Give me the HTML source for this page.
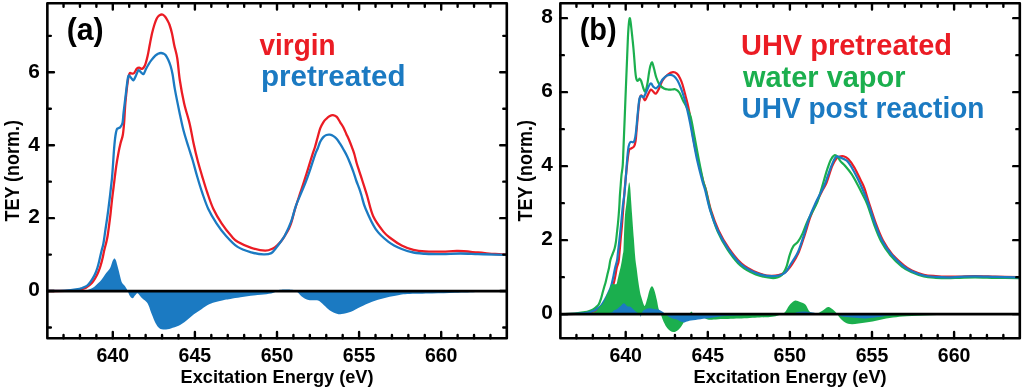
<!DOCTYPE html>
<html><head><meta charset="utf-8"><style>
html,body{margin:0;padding:0;background:#fff;width:1024px;height:392px;overflow:hidden}
svg{display:block;will-change:transform}
text{font-family:"Liberation Sans",sans-serif}
</style></head><body>
<svg width="1024" height="392" viewBox="0 0 1024 392">
<rect width="1024" height="392" fill="#fff"/>
<clipPath id="ca"><rect x="47.35" y="3.30" width="459.45" height="335.00"/></clipPath>
<g clip-path="url(#ca)">
<path d="M47.40,291.00 C50.33,290.97 60.40,290.92 65.00,290.80 C69.60,290.68 72.40,290.52 75.00,290.30 C77.60,290.08 78.77,289.95 80.60,289.50 C82.43,289.05 84.47,288.35 86.00,287.60 C87.53,286.85 88.63,286.02 89.80,285.00 C90.97,283.98 91.98,282.83 93.00,281.50 C94.02,280.17 94.98,278.67 95.90,277.00 C96.82,275.33 97.73,273.33 98.50,271.50 C99.27,269.67 99.83,268.17 100.50,266.00 C101.17,263.83 101.87,261.17 102.50,258.50 C103.13,255.83 103.72,252.50 104.30,250.00 C104.88,247.50 105.45,245.83 106.00,243.50 C106.55,241.17 107.10,238.92 107.60,236.00 C108.10,233.08 108.52,229.67 109.00,226.00 C109.48,222.33 110.00,218.33 110.50,214.00 C111.00,209.67 111.48,204.50 112.00,200.00 C112.52,195.50 112.90,192.60 113.60,187.00 C114.30,181.40 115.37,172.22 116.20,166.40 C117.03,160.58 117.87,156.00 118.60,152.10 C119.33,148.20 119.90,145.85 120.60,143.00 C121.30,140.15 122.22,138.33 122.80,135.00 C123.38,131.67 123.67,128.35 124.10,123.00 C124.53,117.65 124.80,109.77 125.40,102.90 C126.00,96.03 127.00,86.68 127.70,81.80 C128.40,76.92 128.90,74.97 129.60,73.60 C130.30,72.23 131.13,73.70 131.90,73.60 C132.67,73.50 133.37,73.83 134.20,73.00 C135.03,72.17 136.07,69.50 136.90,68.60 C137.73,67.70 138.35,67.55 139.20,67.60 C140.05,67.65 141.05,69.25 142.00,68.90 C142.95,68.55 143.97,67.65 144.90,65.50 C145.83,63.35 146.80,59.42 147.60,56.00 C148.40,52.58 148.97,48.75 149.70,45.00 C150.43,41.25 151.23,36.83 152.00,33.50 C152.77,30.17 153.58,27.33 154.30,25.00 C155.02,22.67 155.65,20.93 156.30,19.50 C156.95,18.07 157.58,17.17 158.20,16.40 C158.82,15.63 159.43,15.22 160.00,14.90 C160.57,14.58 161.07,14.50 161.60,14.50 C162.13,14.50 162.60,14.52 163.20,14.90 C163.80,15.28 164.48,15.87 165.20,16.80 C165.92,17.73 166.77,19.13 167.50,20.50 C168.23,21.87 168.85,22.83 169.60,25.00 C170.35,27.17 171.23,30.17 172.00,33.50 C172.77,36.83 173.32,40.83 174.20,45.00 C175.08,49.17 176.37,52.67 177.30,58.50 C178.23,64.33 178.67,72.55 179.80,80.00 C180.93,87.45 182.45,95.88 184.10,103.20 C185.75,110.52 188.13,117.27 189.70,123.90 C191.27,130.53 192.20,136.98 193.50,143.00 C194.80,149.02 196.05,154.45 197.50,160.00 C198.95,165.55 200.57,170.85 202.20,176.30 C203.83,181.75 205.43,187.25 207.30,192.70 C209.17,198.15 211.02,203.90 213.40,209.00 C215.78,214.10 218.53,218.70 221.60,223.30 C224.67,227.90 229.13,233.53 231.80,236.60 C234.47,239.67 234.35,239.83 237.60,241.70 C240.85,243.57 246.72,246.30 251.30,247.80 C255.88,249.30 261.52,250.58 265.10,250.70 C268.68,250.82 270.75,249.42 272.80,248.50 C274.85,247.58 275.95,246.48 277.40,245.20 C278.85,243.92 280.23,242.42 281.50,240.80 C282.77,239.18 283.83,237.38 285.00,235.50 C286.17,233.62 287.47,231.58 288.50,229.50 C289.53,227.42 290.12,226.38 291.20,223.00 C292.28,219.62 293.53,214.10 295.00,209.20 C296.47,204.30 298.57,197.98 300.00,193.60 C301.43,189.22 302.25,187.07 303.60,182.90 C304.95,178.73 306.62,173.37 308.10,168.60 C309.58,163.83 311.35,157.90 312.50,154.30 C313.65,150.70 314.15,149.80 315.00,147.00 C315.85,144.20 316.73,140.60 317.60,137.50 C318.47,134.40 319.25,130.93 320.20,128.40 C321.15,125.87 322.27,123.92 323.30,122.30 C324.33,120.68 325.38,119.72 326.40,118.70 C327.42,117.68 328.30,116.80 329.40,116.20 C330.50,115.60 331.77,114.98 333.00,115.10 C334.23,115.22 335.60,115.70 336.80,116.90 C338.00,118.10 339.12,120.57 340.20,122.30 C341.28,124.03 342.28,125.37 343.30,127.30 C344.32,129.23 345.30,131.70 346.30,133.90 C347.30,136.10 348.37,138.28 349.30,140.50 C350.23,142.72 351.07,144.95 351.90,147.20 C352.73,149.45 353.50,151.33 354.30,154.00 C355.10,156.67 355.87,160.32 356.70,163.20 C357.53,166.08 358.37,168.42 359.30,171.30 C360.23,174.18 361.37,177.60 362.30,180.50 C363.23,183.40 364.08,186.12 364.90,188.70 C365.72,191.28 365.82,191.40 367.20,196.00 C368.58,200.60 370.50,210.37 373.20,216.30 C375.90,222.23 380.43,227.90 383.40,231.60 C386.37,235.30 387.95,236.18 391.00,238.50 C394.05,240.82 397.97,243.60 401.70,245.50 C405.43,247.40 409.48,248.90 413.40,249.90 C417.32,250.90 420.30,251.22 425.20,251.50 C430.10,251.78 437.33,251.68 442.80,251.60 C448.27,251.52 452.15,250.85 458.00,251.00 C463.85,251.15 471.73,252.00 477.90,252.50 C484.07,253.00 490.32,253.65 495.00,254.00 C499.68,254.35 504.17,254.50 506.00,254.60" stroke="#EB1C24" stroke-width="2.3" fill="none" stroke-linejoin="round"/>
<path d="M47.40,291.00 C50.33,290.95 59.97,291.00 65.00,290.70 C70.03,290.40 74.77,289.65 77.60,289.20 C80.43,288.75 80.47,288.55 82.00,288.00 C83.53,287.45 85.47,286.82 86.80,285.90 C88.13,284.98 88.98,283.78 90.00,282.50 C91.02,281.22 92.02,279.70 92.90,278.20 C93.78,276.70 94.53,275.28 95.30,273.50 C96.07,271.72 96.88,269.42 97.50,267.50 C98.12,265.58 98.50,264.03 99.00,262.00 C99.50,259.97 100.00,257.47 100.50,255.30 C101.00,253.13 101.52,250.97 102.00,249.00 C102.48,247.03 102.83,246.67 103.40,243.50 C103.97,240.33 104.70,234.75 105.40,230.00 C106.10,225.25 106.92,220.00 107.60,215.00 C108.28,210.00 108.92,204.83 109.50,200.00 C110.08,195.17 110.68,189.67 111.10,186.00 C111.52,182.33 111.68,181.57 112.00,178.00 C112.32,174.43 112.65,169.50 113.00,164.60 C113.35,159.70 113.70,153.37 114.10,148.60 C114.50,143.83 114.95,139.20 115.40,136.00 C115.85,132.80 116.30,130.70 116.80,129.40 C117.30,128.10 117.83,128.57 118.40,128.20 C118.97,127.83 119.52,128.07 120.20,127.20 C120.88,126.33 121.93,125.45 122.50,123.00 C123.07,120.55 123.03,117.45 123.60,112.50 C124.17,107.55 125.20,98.97 125.90,93.30 C126.60,87.63 127.28,81.48 127.80,78.50 C128.32,75.52 128.43,75.48 129.00,75.40 C129.57,75.32 130.45,77.18 131.20,78.00 C131.95,78.82 132.70,80.73 133.50,80.30 C134.30,79.87 135.17,77.08 136.00,75.40 C136.83,73.72 137.63,70.67 138.50,70.20 C139.37,69.73 140.35,71.97 141.20,72.60 C142.05,73.23 142.78,74.63 143.60,74.00 C144.42,73.37 145.28,70.38 146.10,68.80 C146.92,67.22 147.65,65.90 148.50,64.50 C149.35,63.10 150.07,61.88 151.20,60.40 C152.33,58.92 154.17,56.70 155.30,55.60 C156.43,54.50 157.07,54.23 158.00,53.80 C158.93,53.37 159.98,53.03 160.90,53.00 C161.82,52.97 162.73,53.27 163.50,53.60 C164.27,53.93 164.73,54.00 165.50,55.00 C166.27,56.00 167.25,57.77 168.10,59.60 C168.95,61.43 169.85,63.52 170.60,66.00 C171.35,68.48 171.88,70.60 172.60,74.50 C173.32,78.40 173.75,83.08 174.90,89.40 C176.05,95.72 178.05,105.50 179.50,112.40 C180.95,119.30 182.10,125.03 183.60,130.80 C185.10,136.57 187.00,142.13 188.50,147.00 C190.00,151.87 191.17,155.12 192.60,160.00 C194.03,164.88 195.50,170.85 197.10,176.30 C198.70,181.75 200.33,187.25 202.20,192.70 C204.07,198.15 205.92,203.90 208.30,209.00 C210.68,214.10 213.60,218.88 216.50,223.30 C219.40,227.72 222.18,231.57 225.70,235.50 C229.22,239.43 233.33,244.10 237.60,246.90 C241.87,249.70 246.97,251.05 251.30,252.30 C255.63,253.55 260.27,254.27 263.60,254.40 C266.93,254.53 269.27,254.13 271.30,253.10 C273.33,252.07 274.27,250.05 275.80,248.20 C277.33,246.35 278.97,244.17 280.50,242.00 C282.03,239.83 283.22,238.63 285.00,235.20 C286.78,231.77 289.40,226.25 291.20,221.40 C293.00,216.55 294.18,210.73 295.80,206.10 C297.42,201.47 299.30,197.47 300.90,193.60 C302.50,189.73 303.90,186.77 305.40,182.90 C306.90,179.03 308.27,175.17 309.90,170.40 C311.53,165.63 313.87,158.03 315.20,154.30 C316.53,150.57 317.07,150.10 317.90,148.00 C318.73,145.90 319.30,143.52 320.20,141.70 C321.10,139.88 322.27,138.22 323.30,137.10 C324.33,135.98 325.30,135.40 326.40,135.00 C327.50,134.60 328.72,134.52 329.90,134.70 C331.08,134.88 332.35,135.38 333.50,136.10 C334.65,136.82 335.68,137.70 336.80,139.00 C337.92,140.30 339.08,142.15 340.20,143.90 C341.32,145.65 342.37,147.48 343.50,149.50 C344.63,151.52 345.90,153.72 347.00,156.00 C348.10,158.28 349.07,160.65 350.10,163.20 C351.13,165.75 352.18,168.42 353.20,171.30 C354.22,174.18 355.18,177.60 356.20,180.50 C357.22,183.40 358.42,186.20 359.30,188.70 C360.18,191.20 360.47,192.20 361.50,195.50 C362.53,198.80 363.13,202.90 365.50,208.50 C367.87,214.10 371.87,223.55 375.70,229.10 C379.53,234.65 384.17,238.48 388.50,241.80 C392.83,245.12 397.55,247.22 401.70,249.00 C405.85,250.78 408.90,251.67 413.40,252.50 C417.90,253.33 423.80,253.73 428.70,254.00 C433.60,254.27 437.53,254.18 442.80,254.10 C448.07,254.02 454.45,253.50 460.30,253.50 C466.15,253.50 472.12,253.92 477.90,254.10 C483.68,254.28 490.32,254.47 495.00,254.60 C499.68,254.73 504.17,254.85 506.00,254.90" stroke="#1B7AC2" stroke-width="2.3" fill="none" stroke-linejoin="round"/>
<path d="M47.40,291.00 C52.83,291.00 73.43,291.13 80.00,291.00 C86.57,290.87 84.80,290.65 86.80,290.20 C88.80,289.75 90.47,289.13 92.00,288.30 C93.53,287.47 94.67,286.32 96.00,285.20 C97.33,284.08 98.82,282.88 100.00,281.60 C101.18,280.32 102.25,278.70 103.10,277.50 C103.95,276.30 104.33,275.43 105.10,274.40 C105.87,273.37 106.93,272.23 107.70,271.30 C108.47,270.37 109.12,269.82 109.70,268.80 C110.28,267.78 110.68,266.57 111.20,265.20 C111.72,263.83 112.28,261.73 112.80,260.60 C113.32,259.47 113.80,258.48 114.30,258.40 C114.80,258.32 115.30,258.97 115.80,260.10 C116.30,261.23 116.78,263.33 117.30,265.20 C117.82,267.07 118.38,269.25 118.90,271.30 C119.42,273.35 119.90,275.62 120.40,277.50 C120.90,279.38 121.30,281.33 121.90,282.60 C122.50,283.87 123.32,284.25 124.00,285.10 C124.68,285.95 125.40,286.78 126.00,287.70 C126.60,288.62 127.00,289.32 127.60,290.60 C128.20,291.88 128.77,294.12 129.60,295.40 C130.43,296.68 131.67,298.32 132.60,298.30 C133.53,298.28 134.35,296.13 135.20,295.30 C136.05,294.47 136.63,292.88 137.70,293.30 C138.77,293.72 140.22,296.42 141.60,297.80 C142.98,299.18 144.83,300.33 146.00,301.60 C147.17,302.87 147.63,303.28 148.60,305.40 C149.57,307.52 150.63,311.32 151.80,314.30 C152.97,317.28 154.33,320.97 155.60,323.30 C156.87,325.63 157.92,327.25 159.40,328.30 C160.88,329.35 162.58,329.58 164.50,329.60 C166.42,329.62 168.55,329.03 170.90,328.40 C173.25,327.77 176.05,327.08 178.60,325.80 C181.15,324.52 183.65,322.62 186.20,320.70 C188.75,318.78 191.35,316.22 193.90,314.30 C196.45,312.38 198.95,310.87 201.50,309.20 C204.05,307.53 206.65,305.53 209.20,304.30 C211.75,303.07 214.17,302.55 216.80,301.80 C219.43,301.05 222.73,300.28 225.00,299.80 C227.27,299.32 227.80,299.32 230.40,298.90 C233.00,298.48 237.20,297.82 240.60,297.30 C244.00,296.78 247.40,296.22 250.80,295.80 C254.20,295.38 257.60,295.17 261.00,294.80 C264.40,294.43 268.65,294.13 271.20,293.60 C273.75,293.07 274.83,292.23 276.30,291.60 C277.77,290.97 277.38,290.10 280.00,289.80 C282.62,289.50 289.17,289.48 292.00,289.80 C294.83,290.12 295.38,290.60 297.00,291.70 C298.62,292.80 299.93,295.05 301.70,296.40 C303.47,297.75 305.88,299.15 307.60,299.80 C309.32,300.45 310.25,300.17 312.00,300.30 C313.75,300.43 316.10,299.78 318.10,300.60 C320.10,301.42 322.03,303.55 324.00,305.20 C325.97,306.85 327.75,309.08 329.90,310.50 C332.05,311.92 334.95,313.12 336.90,313.70 C338.85,314.28 339.25,314.33 341.60,314.00 C343.95,313.67 347.88,312.87 351.00,311.70 C354.12,310.53 356.78,308.67 360.30,307.00 C363.82,305.33 368.18,303.17 372.10,301.70 C376.02,300.23 379.90,299.18 383.80,298.20 C387.70,297.22 391.60,296.48 395.50,295.80 C399.40,295.12 401.08,294.47 407.20,294.10 C413.32,293.73 424.23,293.82 432.20,293.60 C440.17,293.38 447.48,293.07 455.00,292.80 C462.52,292.53 473.13,292.30 477.30,292.00 C481.47,291.70 479.55,291.17 480.00,291.00 L480.00,291.05 L47.40,291.05 Z" fill="#1B7AC2"/>
<path d="M47.35,291.05 H506.80" stroke="#000" stroke-width="2.7"/>
</g>
<rect x="47.35" y="3.30" width="459.45" height="335.00" fill="none" stroke="#000" stroke-width="2.6" stroke-linejoin="round"/>
<path d="M63.54,338.30 V334.90 M63.54,3.30 V6.70 M79.96,338.30 V334.90 M79.96,3.30 V6.70 M96.38,338.30 V334.90 M96.38,3.30 V6.70 M112.80,338.30 V332.00 M112.80,3.30 V9.60 M129.22,338.30 V334.90 M129.22,3.30 V6.70 M145.64,338.30 V334.90 M145.64,3.30 V6.70 M162.06,338.30 V334.90 M162.06,3.30 V6.70 M178.48,338.30 V334.90 M178.48,3.30 V6.70 M194.90,338.30 V332.00 M194.90,3.30 V9.60 M211.32,338.30 V334.90 M211.32,3.30 V6.70 M227.74,338.30 V334.90 M227.74,3.30 V6.70 M244.16,338.30 V334.90 M244.16,3.30 V6.70 M260.58,338.30 V334.90 M260.58,3.30 V6.70 M277.00,338.30 V332.00 M277.00,3.30 V9.60 M293.42,338.30 V334.90 M293.42,3.30 V6.70 M309.84,338.30 V334.90 M309.84,3.30 V6.70 M326.26,338.30 V334.90 M326.26,3.30 V6.70 M342.68,338.30 V334.90 M342.68,3.30 V6.70 M359.10,338.30 V332.00 M359.10,3.30 V9.60 M375.52,338.30 V334.90 M375.52,3.30 V6.70 M391.94,338.30 V334.90 M391.94,3.30 V6.70 M408.36,338.30 V334.90 M408.36,3.30 V6.70 M424.78,338.30 V334.90 M424.78,3.30 V6.70 M441.20,338.30 V332.00 M441.20,3.30 V9.60 M457.62,338.30 V334.90 M457.62,3.30 V6.70 M474.04,338.30 V334.90 M474.04,3.30 V6.70 M490.46,338.30 V334.90 M490.46,3.30 V6.70 M47.35,291.05 H53.95 M506.80,291.05 H500.20 M47.35,218.13 H53.95 M506.80,218.13 H500.20 M47.35,145.21 H53.95 M506.80,145.21 H500.20 M47.35,72.29 H53.95 M506.80,72.29 H500.20 M47.35,327.51 H50.85 M506.80,327.51 H503.30 M47.35,254.59 H50.85 M506.80,254.59 H503.30 M47.35,181.67 H50.85 M506.80,181.67 H503.30 M47.35,108.75 H50.85 M506.80,108.75 H503.30 M47.35,35.83 H50.85 M506.80,35.83 H503.30" stroke="#000" stroke-width="2.4" fill="none" stroke-linecap="round"/>
<text x="112.80" y="361.8" font-family="Liberation Sans" font-weight="bold" font-size="20" text-anchor="middle" textLength="32.6" lengthAdjust="spacingAndGlyphs">640</text>
<text x="194.90" y="361.8" font-family="Liberation Sans" font-weight="bold" font-size="20" text-anchor="middle" textLength="32.6" lengthAdjust="spacingAndGlyphs">645</text>
<text x="277.00" y="361.8" font-family="Liberation Sans" font-weight="bold" font-size="20" text-anchor="middle" textLength="32.6" lengthAdjust="spacingAndGlyphs">650</text>
<text x="359.10" y="361.8" font-family="Liberation Sans" font-weight="bold" font-size="20" text-anchor="middle" textLength="32.6" lengthAdjust="spacingAndGlyphs">655</text>
<text x="441.20" y="361.8" font-family="Liberation Sans" font-weight="bold" font-size="20" text-anchor="middle" textLength="32.6" lengthAdjust="spacingAndGlyphs">660</text>
<text x="39.75" y="296.35" font-family="Liberation Sans" font-weight="bold" font-size="20" text-anchor="end" textLength="11.6" lengthAdjust="spacingAndGlyphs">0</text>
<text x="39.75" y="223.43" font-family="Liberation Sans" font-weight="bold" font-size="20" text-anchor="end" textLength="11.6" lengthAdjust="spacingAndGlyphs">2</text>
<text x="39.75" y="150.51" font-family="Liberation Sans" font-weight="bold" font-size="20" text-anchor="end" textLength="11.6" lengthAdjust="spacingAndGlyphs">4</text>
<text x="39.75" y="77.59" font-family="Liberation Sans" font-weight="bold" font-size="20" text-anchor="end" textLength="11.6" lengthAdjust="spacingAndGlyphs">6</text>
<text x="277.07" y="383" font-family="Liberation Sans" font-weight="bold" font-size="18.5" text-anchor="middle" textLength="193" lengthAdjust="spacingAndGlyphs">Excitation Energy (eV)</text>
<text transform="translate(18.75,170.80) rotate(-90)" x="0" y="0" font-family="Liberation Sans" font-weight="bold" font-size="19.5" text-anchor="middle" textLength="101.5" lengthAdjust="spacingAndGlyphs">TEY (norm.)</text>
<text x="66.65" y="40.2" font-family="Liberation Sans" font-weight="bold" font-size="32" textLength="37" lengthAdjust="spacingAndGlyphs">(a)</text>
<clipPath id="cb"><rect x="560.35" y="3.30" width="459.45" height="335.00"/></clipPath>
<g clip-path="url(#cb)">
<path d="M560.40,314.10 C564.00,314.03 577.07,313.95 582.00,313.70 C586.93,313.45 587.83,313.02 590.00,312.60 C592.17,312.18 593.50,311.80 595.00,311.20 C596.50,310.60 597.83,309.87 599.00,309.00 C600.17,308.13 601.08,307.17 602.00,306.00 C602.92,304.83 603.67,303.42 604.50,302.00 C605.33,300.58 606.17,299.00 607.00,297.50 C607.83,296.00 608.70,294.58 609.50,293.00 C610.30,291.42 611.07,289.72 611.80,288.00 C612.53,286.28 613.30,284.78 613.90,282.70 C614.50,280.62 614.93,277.95 615.40,275.50 C615.87,273.05 616.18,270.25 616.70,268.00 C617.22,265.75 618.07,264.17 618.50,262.00 C618.93,259.83 618.95,258.67 619.30,255.00 C619.65,251.33 620.15,245.00 620.60,240.00 C621.05,235.00 621.52,230.83 622.00,225.00 C622.48,219.17 623.03,211.17 623.50,205.00 C623.97,198.83 624.35,193.28 624.80,188.00 C625.25,182.72 625.70,178.30 626.20,173.30 C626.70,168.30 627.30,161.92 627.80,158.00 C628.30,154.08 628.65,151.38 629.20,149.80 C629.75,148.22 630.30,149.05 631.10,148.50 C631.90,147.95 633.25,147.75 634.00,146.50 C634.75,145.25 635.17,143.75 635.60,141.00 C636.03,138.25 636.27,133.77 636.60,130.00 C636.93,126.23 637.23,122.48 637.60,118.40 C637.97,114.32 638.43,108.85 638.80,105.50 C639.17,102.15 639.40,100.00 639.80,98.30 C640.20,96.60 640.62,95.42 641.20,95.30 C641.78,95.18 642.65,96.78 643.30,97.60 C643.95,98.42 644.33,100.70 645.10,100.20 C645.87,99.70 646.93,96.37 647.90,94.60 C648.87,92.83 649.97,90.05 650.90,89.60 C651.83,89.15 652.65,91.23 653.50,91.90 C654.35,92.57 655.07,94.18 656.00,93.60 C656.93,93.02 657.98,90.63 659.10,88.40 C660.22,86.17 661.25,82.50 662.70,80.20 C664.15,77.90 666.10,75.93 667.80,74.60 C669.50,73.27 671.38,72.37 672.90,72.20 C674.42,72.03 675.72,72.60 676.90,73.60 C678.08,74.60 679.07,76.38 680.00,78.20 C680.93,80.02 681.58,81.58 682.50,84.50 C683.42,87.42 684.55,92.05 685.50,95.70 C686.45,99.35 687.33,102.35 688.20,106.40 C689.07,110.45 689.80,114.33 690.70,120.00 C691.60,125.67 692.37,133.60 693.60,140.40 C694.83,147.20 696.50,154.00 698.10,160.80 C699.70,167.60 701.88,176.33 703.20,181.20 C704.52,186.07 704.70,185.13 706.00,190.00 C707.30,194.87 708.88,203.63 711.00,210.40 C713.12,217.17 715.72,224.27 718.70,230.60 C721.68,236.93 725.08,242.90 728.90,248.40 C732.72,253.90 736.93,259.58 741.60,263.60 C746.27,267.62 751.90,270.47 756.90,272.50 C761.90,274.53 766.98,275.78 771.60,275.80 C776.22,275.82 781.10,274.65 784.60,272.60 C788.10,270.55 790.20,267.02 792.60,263.50 C795.00,259.98 797.02,256.15 799.00,251.50 C800.98,246.85 802.63,241.30 804.50,235.60 C806.37,229.90 808.28,222.63 810.20,217.30 C812.12,211.97 813.88,208.23 816.00,203.60 C818.12,198.97 821.13,193.02 822.90,189.50 C824.67,185.98 825.05,186.38 826.60,182.50 C828.15,178.62 830.53,170.23 832.20,166.20 C833.87,162.17 835.22,159.93 836.60,158.30 C837.98,156.67 839.40,156.75 840.50,156.40 C841.60,156.05 841.90,155.75 843.20,156.20 C844.50,156.65 846.43,157.20 848.30,159.10 C850.17,161.00 852.37,164.15 854.40,167.60 C856.43,171.05 858.82,176.32 860.50,179.80 C862.18,183.28 863.05,184.53 864.50,188.50 C865.95,192.47 867.27,197.65 869.20,203.60 C871.13,209.55 873.82,218.08 876.10,224.20 C878.38,230.32 880.23,235.32 882.90,240.30 C885.57,245.28 888.65,249.98 892.10,254.10 C895.55,258.22 900.30,262.27 903.60,265.00 C906.90,267.73 908.53,268.88 911.90,270.50 C915.27,272.12 919.82,273.77 923.80,274.70 C927.78,275.63 931.82,275.77 935.80,276.10 C939.78,276.43 943.73,276.62 947.70,276.70 C951.67,276.78 955.03,276.70 959.60,276.60 C964.17,276.50 969.13,276.10 975.10,276.10 C981.07,276.10 988.08,276.42 995.40,276.60 C1002.72,276.78 1015.07,277.10 1019.00,277.20" stroke="#EB1C24" stroke-width="2.2" fill="none" stroke-linejoin="round"/>
<path d="M560.40,314.10 C562.83,314.02 570.90,313.92 575.00,313.60 C579.10,313.28 582.50,312.67 585.00,312.20 C587.50,311.73 588.58,311.28 590.00,310.80 C591.42,310.32 592.50,309.88 593.50,309.30 C594.50,308.72 595.12,308.13 596.00,307.30 C596.88,306.47 597.93,305.85 598.80,304.30 C599.67,302.75 600.53,300.05 601.20,298.00 C601.87,295.95 602.30,293.83 602.80,292.00 C603.30,290.17 603.75,288.55 604.20,287.00 C604.65,285.45 604.98,284.70 605.50,282.70 C606.02,280.70 606.72,277.45 607.30,275.00 C607.88,272.55 608.48,270.50 609.00,268.00 C609.52,265.50 609.80,262.33 610.40,260.00 C611.00,257.67 611.90,255.92 612.60,254.00 C613.30,252.08 614.05,250.50 614.60,248.50 C615.15,246.50 615.53,244.42 615.90,242.00 C616.27,239.58 616.47,237.00 616.80,234.00 C617.13,231.00 617.58,227.17 617.90,224.00 C618.22,220.83 618.45,218.17 618.70,215.00 C618.95,211.83 619.20,208.27 619.40,205.00 C619.60,201.73 619.68,198.73 619.90,195.40 C620.12,192.07 620.43,188.40 620.70,185.00 C620.97,181.60 621.17,178.23 621.50,175.00 C621.83,171.77 622.38,169.77 622.70,165.60 C623.02,161.43 623.18,155.10 623.40,150.00 C623.62,144.90 623.78,140.33 624.00,135.00 C624.22,129.67 624.47,123.83 624.70,118.00 C624.93,112.17 625.15,106.33 625.40,100.00 C625.65,93.67 625.92,87.00 626.20,80.00 C626.48,73.00 626.82,65.00 627.10,58.00 C627.38,51.00 627.62,43.67 627.90,38.00 C628.18,32.33 628.50,27.30 628.80,24.00 C629.10,20.70 629.40,18.53 629.70,18.20 C630.00,17.87 630.28,19.95 630.60,22.00 C630.92,24.05 631.27,27.50 631.60,30.50 C631.93,33.50 632.28,36.92 632.60,40.00 C632.92,43.08 633.20,45.67 633.50,49.00 C633.80,52.33 634.12,56.42 634.40,60.00 C634.68,63.58 634.92,67.53 635.20,70.50 C635.48,73.47 635.77,76.08 636.10,77.80 C636.43,79.52 636.80,80.40 637.20,80.80 C637.60,81.20 638.08,80.55 638.50,80.20 C638.92,79.85 639.25,78.57 639.70,78.70 C640.15,78.83 640.60,79.45 641.20,81.00 C641.80,82.55 642.62,86.23 643.30,88.00 C643.98,89.77 644.63,92.22 645.30,91.60 C645.97,90.98 646.70,87.32 647.30,84.30 C647.90,81.28 648.42,76.47 648.90,73.50 C649.38,70.53 649.67,68.37 650.20,66.50 C650.73,64.63 651.47,61.97 652.10,62.30 C652.73,62.63 653.30,65.97 654.00,68.50 C654.70,71.03 655.40,74.83 656.30,77.50 C657.20,80.17 658.12,82.67 659.40,84.50 C660.68,86.33 662.47,87.65 664.00,88.50 C665.53,89.35 667.27,89.43 668.60,89.60 C669.93,89.77 670.82,89.53 672.00,89.50 C673.18,89.47 674.48,88.90 675.70,89.40 C676.92,89.90 678.10,90.70 679.30,92.50 C680.50,94.30 681.60,97.58 682.90,100.20 C684.20,102.82 685.80,105.38 687.10,108.20 C688.40,111.02 689.55,112.80 690.70,117.10 C691.85,121.40 693.25,130.12 694.00,134.00 C694.75,137.88 694.37,135.93 695.20,140.40 C696.03,144.87 697.67,154.00 699.00,160.80 C700.33,167.60 702.07,176.33 703.20,181.20 C704.33,186.07 704.58,185.13 705.80,190.00 C707.02,194.87 708.52,203.48 710.50,210.40 C712.48,217.32 714.85,224.97 717.70,231.50 C720.55,238.03 723.87,243.98 727.60,249.60 C731.33,255.22 735.40,261.05 740.10,265.20 C744.80,269.35 750.58,272.37 755.80,274.50 C761.02,276.63 767.70,277.55 771.40,278.00 C775.10,278.45 776.25,277.72 778.00,277.20 C779.75,276.68 780.82,275.93 781.90,274.90 C782.98,273.87 783.68,272.52 784.50,271.00 C785.32,269.48 785.90,268.58 786.80,265.80 C787.70,263.02 788.80,257.57 789.90,254.30 C791.00,251.03 792.05,248.30 793.40,246.20 C794.75,244.10 796.48,243.80 798.00,241.70 C799.52,239.60 800.98,236.87 802.50,233.60 C804.02,230.33 805.57,225.53 807.10,222.10 C808.63,218.67 809.97,216.43 811.70,213.00 C813.43,209.57 815.73,206.00 817.50,201.50 C819.27,197.00 820.75,191.15 822.30,186.00 C823.85,180.85 825.40,174.95 826.80,170.60 C828.20,166.25 829.42,162.45 830.70,159.90 C831.98,157.35 833.35,155.82 834.50,155.30 C835.65,154.78 836.58,155.78 837.60,156.80 C838.62,157.82 839.33,159.87 840.60,161.40 C841.87,162.93 843.42,163.95 845.20,166.00 C846.98,168.05 849.25,170.63 851.30,173.70 C853.35,176.77 855.70,181.08 857.50,184.40 C859.30,187.72 860.43,190.20 862.10,193.60 C863.77,197.00 865.45,199.50 867.50,204.80 C869.55,210.10 872.12,219.28 874.40,225.40 C876.68,231.52 878.53,236.52 881.20,241.50 C883.87,246.48 886.95,251.12 890.40,255.30 C893.85,259.48 898.32,263.78 901.90,266.60 C905.48,269.42 908.25,270.57 911.90,272.20 C915.55,273.83 919.82,275.47 923.80,276.40 C927.78,277.33 931.82,277.50 935.80,277.80 C939.78,278.10 943.73,278.20 947.70,278.20 C951.67,278.20 955.03,277.95 959.60,277.80 C964.17,277.65 969.13,277.30 975.10,277.30 C981.07,277.30 988.08,277.65 995.40,277.80 C1002.72,277.95 1015.07,278.13 1019.00,278.20" stroke="#1BAF4E" stroke-width="2.2" fill="none" stroke-linejoin="round"/>
<path d="M560.40,314.10 C563.67,314.03 575.40,313.95 580.00,313.70 C584.60,313.45 586.00,312.98 588.00,312.60 C590.00,312.22 590.83,311.80 592.00,311.40 C593.17,311.00 594.13,310.67 595.00,310.20 C595.87,309.73 596.35,309.22 597.20,308.60 C598.05,307.98 599.30,307.22 600.10,306.50 C600.90,305.78 601.28,305.30 602.00,304.30 C602.72,303.30 603.58,301.88 604.40,300.50 C605.22,299.12 606.13,297.50 606.90,296.00 C607.67,294.50 608.35,293.00 609.00,291.50 C609.65,290.00 610.30,288.47 610.80,287.00 C611.30,285.53 611.53,284.62 612.00,282.70 C612.47,280.78 613.08,277.95 613.60,275.50 C614.12,273.05 614.52,270.53 615.10,268.00 C615.68,265.47 616.63,262.80 617.10,260.30 C617.57,257.80 617.52,256.38 617.90,253.00 C618.28,249.62 618.88,244.67 619.40,240.00 C619.92,235.33 620.47,230.33 621.00,225.00 C621.53,219.67 622.00,213.50 622.60,208.00 C623.20,202.50 624.02,197.78 624.60,192.00 C625.18,186.22 625.65,178.97 626.10,173.30 C626.55,167.63 626.88,162.47 627.30,158.00 C627.72,153.53 628.08,149.17 628.60,146.50 C629.12,143.83 629.63,142.70 630.40,142.00 C631.17,141.30 632.50,142.63 633.20,142.30 C633.90,141.97 634.15,141.62 634.60,140.00 C635.05,138.38 635.40,136.80 635.90,132.60 C636.40,128.40 637.15,119.40 637.60,114.80 C638.05,110.20 638.30,107.65 638.60,105.00 C638.90,102.35 639.02,100.40 639.40,98.90 C639.78,97.40 640.38,96.38 640.90,96.00 C641.42,95.62 642.02,96.43 642.50,96.60 C642.98,96.77 643.17,97.78 643.80,97.00 C644.43,96.22 645.20,94.15 646.30,91.90 C647.40,89.65 649.28,84.43 650.40,83.50 C651.52,82.57 652.07,85.50 653.00,86.30 C653.93,87.10 654.98,88.47 656.00,88.30 C657.02,88.13 657.98,86.82 659.10,85.30 C660.22,83.78 661.43,80.82 662.70,79.20 C663.97,77.58 665.42,76.33 666.70,75.60 C667.98,74.87 669.20,74.70 670.40,74.80 C671.60,74.90 672.72,75.25 673.90,76.20 C675.08,77.15 676.30,78.43 677.50,80.50 C678.70,82.57 679.92,85.47 681.10,88.60 C682.28,91.73 683.57,95.73 684.60,99.30 C685.63,102.87 686.40,106.13 687.30,110.00 C688.20,113.87 689.00,117.43 690.00,122.50 C691.00,127.57 692.08,134.02 693.30,140.40 C694.52,146.78 695.78,154.00 697.30,160.80 C698.82,167.60 701.10,176.33 702.40,181.20 C703.70,186.07 703.80,185.13 705.10,190.00 C706.40,194.87 708.07,203.60 710.20,210.40 C712.33,217.20 714.92,224.42 717.90,230.80 C720.88,237.18 724.28,243.17 728.10,248.70 C731.92,254.23 736.13,259.97 740.80,264.00 C745.47,268.03 751.00,270.87 756.10,272.90 C761.20,274.93 766.72,276.12 771.40,276.20 C776.08,276.28 780.92,275.52 784.20,273.40 C787.48,271.28 788.80,267.07 791.10,263.50 C793.40,259.93 795.90,256.60 798.00,252.00 C800.10,247.40 801.80,241.65 803.70,235.90 C805.60,230.15 807.48,222.85 809.40,217.50 C811.32,212.15 813.08,208.38 815.20,203.80 C817.32,199.22 820.42,193.48 822.10,190.00 C823.78,186.52 823.75,186.90 825.30,182.90 C826.85,178.90 829.62,170.33 831.40,166.00 C833.18,161.67 834.47,158.30 836.00,156.90 C837.53,155.50 838.80,156.97 840.60,157.60 C842.40,158.23 845.02,159.17 846.80,160.70 C848.58,162.23 849.52,163.87 851.30,166.80 C853.08,169.73 855.57,174.43 857.50,178.30 C859.43,182.17 861.08,185.75 862.90,190.00 C864.72,194.25 866.33,198.07 868.40,203.80 C870.47,209.53 873.02,218.28 875.30,224.40 C877.58,230.52 879.43,235.52 882.10,240.50 C884.77,245.48 887.85,250.12 891.30,254.30 C894.75,258.48 899.37,262.77 902.80,265.60 C906.23,268.43 908.40,269.65 911.90,271.30 C915.40,272.95 919.82,274.57 923.80,275.50 C927.78,276.43 931.82,276.60 935.80,276.90 C939.78,277.20 943.73,277.30 947.70,277.30 C951.67,277.30 955.03,277.05 959.60,276.90 C964.17,276.75 969.13,276.40 975.10,276.40 C981.07,276.40 988.08,276.72 995.40,276.90 C1002.72,277.08 1015.07,277.40 1019.00,277.50" stroke="#1B7AC2" stroke-width="2.2" fill="none" stroke-linejoin="round"/>
<path d="M575.00,314.15 C576.67,314.11 582.50,314.04 585.00,313.90 C587.50,313.76 588.50,313.58 590.00,313.30 C591.50,313.02 592.95,312.53 594.00,312.20 C595.05,311.87 595.58,311.90 596.30,311.30 C597.02,310.70 597.65,309.43 598.30,308.60 C598.95,307.77 599.53,307.02 600.20,306.30 C600.87,305.58 601.57,305.30 602.30,304.30 C603.03,303.30 604.02,301.50 604.60,300.30 C605.18,299.10 605.43,298.07 605.80,297.10 C606.17,296.13 606.40,295.30 606.80,294.50 C607.20,293.70 607.70,293.30 608.20,292.30 C608.70,291.30 609.35,289.62 609.80,288.50 C610.25,287.38 610.57,286.32 610.90,285.60 C611.23,284.88 611.37,284.48 611.80,284.20 C612.23,283.92 612.72,283.95 613.50,283.90 C614.28,283.85 615.82,284.63 616.50,283.90 C617.18,283.17 617.22,281.07 617.60,279.50 C617.98,277.93 618.33,276.42 618.80,274.50 C619.27,272.58 619.93,270.08 620.40,268.00 C620.87,265.92 621.22,264.17 621.60,262.00 C621.98,259.83 622.38,257.10 622.70,255.00 C623.02,252.90 623.27,253.20 623.50,249.40 C623.73,245.60 623.85,237.93 624.10,232.20 C624.35,226.47 624.65,219.53 625.00,215.00 C625.35,210.47 625.85,208.00 626.20,205.00 C626.55,202.00 626.77,199.92 627.10,197.00 C627.43,194.08 627.85,189.97 628.20,187.50 C628.55,185.03 628.87,182.20 629.20,182.20 C629.53,182.20 629.88,184.43 630.20,187.50 C630.52,190.57 630.78,196.02 631.10,200.60 C631.42,205.18 631.65,208.77 632.10,215.00 C632.55,221.23 633.27,230.83 633.80,238.00 C634.33,245.17 634.83,253.02 635.30,258.00 C635.77,262.98 636.08,263.88 636.60,267.90 C637.12,271.92 637.83,278.08 638.40,282.10 C638.97,286.12 639.52,289.52 640.00,292.00 C640.48,294.48 640.70,294.97 641.30,297.00 C641.90,299.03 642.98,302.77 643.60,304.20 C644.22,305.63 644.38,306.53 645.00,305.60 C645.62,304.67 646.53,301.20 647.30,298.60 C648.07,296.00 648.80,292.05 649.60,290.00 C650.40,287.95 651.28,286.17 652.10,286.30 C652.92,286.43 653.72,288.55 654.50,290.80 C655.28,293.05 656.12,296.82 656.80,299.80 C657.48,302.78 657.93,306.28 658.60,308.70 C659.27,311.12 659.95,312.10 660.80,314.30 C661.65,316.50 662.53,319.50 663.70,321.90 C664.87,324.30 666.20,327.02 667.80,328.70 C669.40,330.38 671.48,331.88 673.30,332.00 C675.12,332.12 677.12,330.75 678.70,329.40 C680.28,328.05 681.65,325.60 682.80,323.90 C683.95,322.20 684.65,320.43 685.60,319.20 C686.55,317.97 687.73,317.53 688.50,316.50 C689.27,315.47 689.73,313.85 690.20,313.00 C690.67,312.15 690.90,311.40 691.30,311.40 C691.70,311.40 692.15,312.18 692.60,313.00 C693.05,313.82 692.43,315.62 694.00,316.30 C695.57,316.98 699.53,316.53 702.00,317.10 C704.47,317.67 706.07,319.35 708.80,319.70 C711.53,320.05 713.38,319.40 718.40,319.20 C723.42,319.00 732.07,318.78 738.90,318.50 C745.73,318.22 754.22,317.75 759.40,317.50 C764.58,317.25 767.03,317.30 770.00,317.00 C772.97,316.70 775.12,316.23 777.20,315.70 C779.28,315.17 781.12,314.50 782.50,313.80 C783.88,313.10 784.38,312.88 785.50,311.50 C786.62,310.12 787.68,307.30 789.20,305.50 C790.72,303.70 792.78,301.27 794.60,300.70 C796.42,300.13 798.27,301.42 800.10,302.10 C801.93,302.78 804.12,303.32 805.60,304.80 C807.08,306.28 807.85,309.60 809.00,311.00 C810.15,312.40 811.25,312.75 812.50,313.20 C813.75,313.65 814.92,314.07 816.50,313.70 C818.08,313.33 820.07,312.13 822.00,311.00 C823.93,309.87 826.28,307.13 828.10,306.90 C829.92,306.67 831.42,308.47 832.90,309.60 C834.38,310.73 835.85,312.33 837.00,313.70 C838.15,315.07 838.43,316.32 839.80,317.80 C841.17,319.28 843.15,321.52 845.20,322.60 C847.25,323.68 848.67,324.30 852.10,324.30 C855.53,324.30 861.25,323.33 865.80,322.60 C870.35,321.87 874.85,320.73 879.40,319.90 C883.95,319.07 888.53,318.22 893.10,317.60 C897.67,316.98 900.65,316.60 906.80,316.20 C912.95,315.80 921.13,315.47 930.00,315.20 C938.87,314.93 950.83,314.78 960.00,314.60 C969.17,314.43 980.83,314.22 985.00,314.15 L985.00,314.15 L575.00,314.15 Z" fill="#1BAF4E"/>
<path d="M595.00,314.15 C596.67,314.04 602.25,313.76 605.00,313.50 C607.75,313.24 610.05,313.10 611.50,312.60 C612.95,312.10 612.93,311.00 613.70,310.50 C614.47,310.00 615.25,310.12 616.10,309.60 C616.95,309.08 618.03,308.00 618.80,307.40 C619.57,306.80 619.83,306.68 620.70,306.00 C621.57,305.32 622.92,303.27 624.00,303.30 C625.08,303.33 626.20,305.65 627.20,306.20 C628.20,306.75 629.03,306.15 630.00,306.60 C630.97,307.05 632.07,308.07 633.00,308.90 C633.93,309.73 634.68,310.83 635.60,311.60 C636.52,312.37 637.77,313.05 638.50,313.50 C639.23,313.95 639.63,313.72 640.00,314.30 C640.37,314.88 640.43,317.13 640.70,317.00 C640.97,316.87 641.23,314.50 641.60,313.50 C641.97,312.50 642.25,311.72 642.90,311.00 C643.55,310.28 644.42,309.65 645.50,309.20 C646.58,308.75 648.05,308.35 649.40,308.30 C650.75,308.25 652.27,308.73 653.60,308.90 C654.93,309.07 656.25,309.03 657.40,309.30 C658.55,309.57 659.57,310.05 660.50,310.50 C661.43,310.95 662.18,311.38 663.00,312.00 C663.82,312.62 664.48,313.45 665.40,314.20 C666.32,314.95 667.53,315.87 668.50,316.50 C669.47,317.13 669.72,317.45 671.20,318.00 C672.68,318.55 675.87,319.22 677.40,319.80 C678.93,320.38 679.27,321.07 680.40,321.50 C681.53,321.93 683.25,322.37 684.20,322.40 C685.15,322.43 684.97,322.02 686.10,321.70 C687.23,321.38 688.58,320.92 691.00,320.50 C693.42,320.08 697.17,319.65 700.60,319.20 C704.03,318.75 707.50,318.32 711.60,317.80 C715.70,317.28 720.47,316.53 725.20,316.10 C729.93,315.67 734.20,315.45 740.00,315.20 C745.80,314.95 751.67,314.78 760.00,314.60 C768.33,314.43 783.77,314.58 790.00,314.15 C796.23,313.72 794.90,312.44 797.40,312.00 C799.90,311.56 802.05,311.33 805.00,311.50 C807.95,311.67 812.93,312.56 815.10,313.00 C817.27,313.44 814.18,313.96 818.00,314.15 C821.82,314.34 834.15,313.81 838.00,314.15 C841.85,314.49 838.75,315.62 841.10,316.20 C843.45,316.77 847.98,317.23 852.10,317.60 C856.22,317.97 861.25,318.48 865.80,318.40 C870.35,318.32 875.98,317.53 879.40,317.10 C882.82,316.67 882.87,316.20 886.30,315.80 C889.73,315.40 895.22,314.98 900.00,314.70 C904.78,314.42 912.50,314.24 915.00,314.15 L915.00,314.15 L595.00,314.15 Z" fill="#1B7AC2"/>
<path d="M560.35,314.15 H1019.80" stroke="#000" stroke-width="2.7"/>
</g>
<rect x="560.35" y="3.30" width="459.45" height="335.00" fill="none" stroke="#000" stroke-width="2.6" stroke-linejoin="round"/>
<path d="M576.44,338.30 V334.90 M576.44,3.30 V6.70 M592.86,338.30 V334.90 M592.86,3.30 V6.70 M609.28,338.30 V334.90 M609.28,3.30 V6.70 M625.70,338.30 V332.00 M625.70,3.30 V9.60 M642.12,338.30 V334.90 M642.12,3.30 V6.70 M658.54,338.30 V334.90 M658.54,3.30 V6.70 M674.96,338.30 V334.90 M674.96,3.30 V6.70 M691.38,338.30 V334.90 M691.38,3.30 V6.70 M707.80,338.30 V332.00 M707.80,3.30 V9.60 M724.22,338.30 V334.90 M724.22,3.30 V6.70 M740.64,338.30 V334.90 M740.64,3.30 V6.70 M757.06,338.30 V334.90 M757.06,3.30 V6.70 M773.48,338.30 V334.90 M773.48,3.30 V6.70 M789.90,338.30 V332.00 M789.90,3.30 V9.60 M806.32,338.30 V334.90 M806.32,3.30 V6.70 M822.74,338.30 V334.90 M822.74,3.30 V6.70 M839.16,338.30 V334.90 M839.16,3.30 V6.70 M855.58,338.30 V334.90 M855.58,3.30 V6.70 M872.00,338.30 V332.00 M872.00,3.30 V9.60 M888.42,338.30 V334.90 M888.42,3.30 V6.70 M904.84,338.30 V334.90 M904.84,3.30 V6.70 M921.26,338.30 V334.90 M921.26,3.30 V6.70 M937.68,338.30 V334.90 M937.68,3.30 V6.70 M954.10,338.30 V332.00 M954.10,3.30 V9.60 M970.52,338.30 V334.90 M970.52,3.30 V6.70 M986.94,338.30 V334.90 M986.94,3.30 V6.70 M1003.36,338.30 V334.90 M1003.36,3.30 V6.70 M560.35,314.15 H566.95 M1019.80,314.15 H1013.20 M560.35,240.15 H566.95 M1019.80,240.15 H1013.20 M560.35,166.15 H566.95 M1019.80,166.15 H1013.20 M560.35,92.15 H566.95 M1019.80,92.15 H1013.20 M560.35,18.15 H566.95 M1019.80,18.15 H1013.20 M560.35,277.15 H563.85 M1019.80,277.15 H1016.30 M560.35,203.15 H563.85 M1019.80,203.15 H1016.30 M560.35,129.15 H563.85 M1019.80,129.15 H1016.30 M560.35,55.15 H563.85 M1019.80,55.15 H1016.30" stroke="#000" stroke-width="2.4" fill="none" stroke-linecap="round"/>
<text x="625.70" y="361.8" font-family="Liberation Sans" font-weight="bold" font-size="20" text-anchor="middle" textLength="32.6" lengthAdjust="spacingAndGlyphs">640</text>
<text x="707.80" y="361.8" font-family="Liberation Sans" font-weight="bold" font-size="20" text-anchor="middle" textLength="32.6" lengthAdjust="spacingAndGlyphs">645</text>
<text x="789.90" y="361.8" font-family="Liberation Sans" font-weight="bold" font-size="20" text-anchor="middle" textLength="32.6" lengthAdjust="spacingAndGlyphs">650</text>
<text x="872.00" y="361.8" font-family="Liberation Sans" font-weight="bold" font-size="20" text-anchor="middle" textLength="32.6" lengthAdjust="spacingAndGlyphs">655</text>
<text x="954.10" y="361.8" font-family="Liberation Sans" font-weight="bold" font-size="20" text-anchor="middle" textLength="32.6" lengthAdjust="spacingAndGlyphs">660</text>
<text x="552.75" y="319.45" font-family="Liberation Sans" font-weight="bold" font-size="20" text-anchor="end" textLength="11.6" lengthAdjust="spacingAndGlyphs">0</text>
<text x="552.75" y="245.45" font-family="Liberation Sans" font-weight="bold" font-size="20" text-anchor="end" textLength="11.6" lengthAdjust="spacingAndGlyphs">2</text>
<text x="552.75" y="171.45" font-family="Liberation Sans" font-weight="bold" font-size="20" text-anchor="end" textLength="11.6" lengthAdjust="spacingAndGlyphs">4</text>
<text x="552.75" y="97.45" font-family="Liberation Sans" font-weight="bold" font-size="20" text-anchor="end" textLength="11.6" lengthAdjust="spacingAndGlyphs">6</text>
<text x="552.75" y="23.45" font-family="Liberation Sans" font-weight="bold" font-size="20" text-anchor="end" textLength="11.6" lengthAdjust="spacingAndGlyphs">8</text>
<text x="790.08" y="383" font-family="Liberation Sans" font-weight="bold" font-size="18.5" text-anchor="middle" textLength="193" lengthAdjust="spacingAndGlyphs">Excitation Energy (eV)</text>
<text transform="translate(531.75,170.80) rotate(-90)" x="0" y="0" font-family="Liberation Sans" font-weight="bold" font-size="19.5" text-anchor="middle" textLength="101.5" lengthAdjust="spacingAndGlyphs">TEY (norm.)</text>
<text x="579.65" y="40.2" font-family="Liberation Sans" font-weight="bold" font-size="32" textLength="37" lengthAdjust="spacingAndGlyphs">(b)</text>
<text x="259.5" y="54.6" font-family="Liberation Sans" font-weight="bold" font-size="29.5" fill="#EB1C24" textLength="76" lengthAdjust="spacingAndGlyphs">virgin</text>
<text x="261" y="86.3" font-family="Liberation Sans" font-weight="bold" font-size="29.5" fill="#1B7AC2" textLength="144.5" lengthAdjust="spacingAndGlyphs">pretreated</text>
<text x="741" y="55.4" font-family="Liberation Sans" font-weight="bold" font-size="29.5" fill="#EB1C24" textLength="211" lengthAdjust="spacingAndGlyphs">UHV pretreated</text>
<text x="743" y="86.7" font-family="Liberation Sans" font-weight="bold" font-size="29.5" fill="#1BAF4E" textLength="162.5" lengthAdjust="spacingAndGlyphs">water vapor</text>
<text x="741.5" y="117.8" font-family="Liberation Sans" font-weight="bold" font-size="29.5" fill="#1B7AC2" textLength="243" lengthAdjust="spacingAndGlyphs">UHV post reaction</text>
</svg>
</body></html>
